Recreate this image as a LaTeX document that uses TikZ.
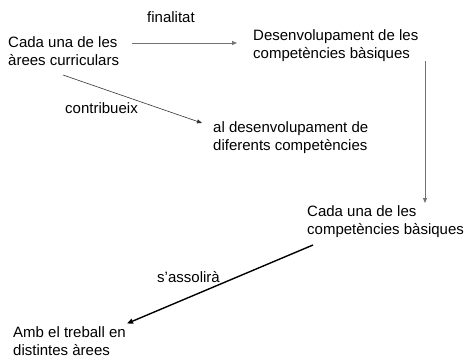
\documentclass[tikz,border=0pt]{standalone}
\usepackage{fontspec}
\setmainfont{Liberation Sans}
\usetikzlibrary{calc,arrows.meta}
\begin{document}
\begin{tikzpicture}[x=1pt,y=-1pt,
  txt/.style={anchor=west,inner sep=0pt,align=left,font=\fontsize{15}{18}\selectfont},
  lbl/.style={inner sep=0pt,font=\fontsize{15}{18}\selectfont},
  thinarr/.style={draw=black!55,line width=0.8pt,-{Triangle[length=5pt,width=4pt]}},
  darkarr/.style={draw=black!80,line width=0.6pt,-{Triangle[length=5pt,width=4pt]}},
  thickarr/.style={draw=black,line width=1.4pt,-{Triangle[length=6pt,width=5pt]}}]
\useasboundingbox (0,0) rectangle (467,359);
\node[txt] (A) at (8,51) {Cada una de les\\àrees curriculars};
\node[txt] (B) at (253,46) {Desenvolupament de les\\competències bàsiques};
\node[txt] (C) at (213,137.5) {al desenvolupament de\\diferents competències};
\node[txt] (D) at (307,221.5) {Cada una de les\\competències bàsiques};
\node[txt] (E) at (13,341.5) {Amb el treball en\\distintes àrees};
\node[lbl] (l1) at (171,17) {finalitat};
\node[lbl] (l2) at (101.5,108) {contribueix};
\node[lbl] (l3) at (188.5,277) {s’assolirà};
\draw[thinarr] ($(A.west)+(124,-8)$) -- ($(B.west)+(-16,-3)$);
\draw[darkarr] ($(A.west)+(55,24)$) -- ($(C.west)+(-11,-14.5)$);
\draw[thinarr] ($(B.west)+(172,15)$) -- ($(D.west)+(118,-18.5)$);
\draw[thickarr] ($(D.west)+(6,23.5)$) -- ($(E.west)+(114,-18)$);
\end{tikzpicture}
\end{document}
